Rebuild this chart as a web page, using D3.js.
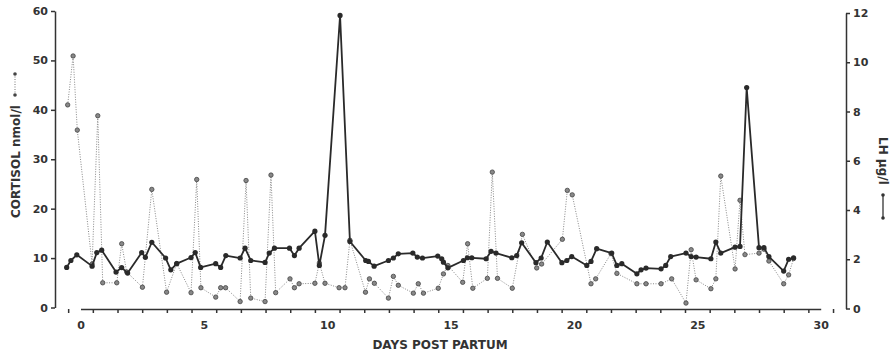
<!DOCTYPE html>
<html>
<head>
<meta charset="utf-8">
<script src="https://cdn.jsdelivr.net/npm/d3@7"></script>
<style>
  body { margin: 0; background: #fff; }
  text { font-family: "DejaVu Sans", sans-serif; font-weight: bold; fill: #333; }
</style>
</head>
<body>
<div id="chart"></div>
<script>
// LH (solid line, right axis, ug/l)
const lhDays = [-0.56, -0.39, -0.15, 0.47, 0.66, 0.86, 1.44, 1.67, 1.91, 2.48, 2.63, 2.89,
  3.45, 3.66, 3.90, 4.48, 4.65, 4.87, 5.48, 5.68, 5.89, 6.47, 6.67, 6.90, 7.48, 7.65, 7.86,
  8.47, 8.67, 8.86, 9.50, 9.68, 9.91, 10.52, 10.92, 11.56, 11.67, 11.90, 12.48, 12.68, 12.88,
  13.47, 13.65, 13.86, 14.48, 14.64, 14.71, 14.89, 15.52, 15.68, 15.86, 16.44, 16.64, 16.84,
  17.48, 17.68, 17.88, 18.46, 18.67, 18.92, 19.51, 19.71, 19.91, 20.52, 20.69, 20.92, 21.53,
  21.74, 21.94, 22.55, 22.72, 22.92, 23.53, 23.72, 23.92, 24.54, 24.75, 24.95, 25.55, 25.75,
  25.95, 26.53, 26.73, 27.0, 27.5, 27.7, 27.9, 28.5, 28.7, 28.9];
const lhValues = [1.67, 1.95, 2.18, 1.72, 2.27, 2.37, 1.48, 1.66, 1.44, 2.27, 2.08, 2.69,
  2.05, 1.57, 1.82, 2.07, 2.27, 1.67, 1.82, 1.67, 2.15, 2.05, 2.45, 1.95, 1.87, 2.25, 2.45,
  2.45, 2.15, 2.45, 3.14, 1.75, 2.97, 11.9, 2.72, 1.95, 1.91, 1.72, 1.95, 2.05, 2.22,
  2.25, 2.09, 2.05, 2.13, 2.02, 1.88, 1.65, 1.95, 2.06, 2.06, 2.02, 2.32, 2.25,
  2.06, 2.15, 2.67, 1.86, 2.05, 2.70, 1.86, 1.95, 2.11, 1.75, 1.91, 2.43, 2.25,
  1.75, 1.82, 1.41, 1.57, 1.64, 1.61, 1.75, 2.11, 2.25, 2.11, 2.09, 2.02, 2.70,
  2.25, 2.49, 2.52, 8.97, 2.47, 2.47, 2.11, 1.52, 2.0, 2.06];

// Cortisol (dotted line, left axis, nmol/l)
const cortDays = [-0.52, -0.30, -0.13, 0.47, 0.70, 0.90, 1.47, 1.67, 1.87, 2.51, 2.89, 3.49,
  3.90, 4.48, 4.71, 4.88, 5.48, 5.68, 5.88, 6.47, 6.71, 6.90, 7.48, 7.72, 7.91, 8.49, 8.67,
  8.86, 9.50, 9.68, 9.91, 10.48, 10.72, 10.92, 11.55, 11.71, 11.91, 12.48, 12.68, 12.88,
  13.49, 13.69, 13.90, 14.50, 14.71, 14.89, 15.49, 15.69, 15.90, 16.49, 16.69, 16.90, 17.50,
  17.91, 18.49, 18.69, 19.53, 19.73, 19.93, 20.69, 20.88, 21.50, 21.74, 22.55, 22.92, 23.53,
  23.96, 24.54, 24.75, 24.95, 25.55, 25.75, 25.95, 26.53, 26.73, 26.93, 27.5, 27.7, 27.9,
  28.5, 28.7, 28.9];
const cortValues = [41, 50.9, 35.9, 8.8, 38.8, 5.0, 5.0, 12.9, 7.2, 4.1, 23.9, 3.1,
  8.9, 3.0, 25.9, 4.0, 2.1, 4.0, 4.0, 1.2, 25.7, 1.9, 1.2, 26.8, 3.0, 5.8, 4.0,
  4.8, 4.9, 9.0, 4.9, 4.0, 4.0, 13.6, 3.1, 5.8, 4.9, 1.9, 6.3, 4.5,
  2.9, 4.8, 2.9, 3.9, 6.8, 8.5, 5.1, 12.9, 3.9, 5.9, 27.4, 5.9, 3.9,
  14.8, 8.0, 8.8, 13.8, 23.7, 22.8, 4.8, 5.8, 10.9, 6.9, 4.8, 4.8, 4.8,
  5.8, 0.9, 11.7, 5.6, 3.8, 5.8, 26.6, 7.8, 21.7, 10.7, 11.0, 11.8, 9.4,
  4.8, 6.6, 9.9];

// Axis ticks
const cortTicks = [0, 10, 20, 30, 40, 50, 60];
const lhTicks = [0, 2, 4, 6, 8, 10, 12];
const dayLabels = [0, 5, 10, 15, 20, 25, 30];
const dayTicks = d3.range(-0.5, 31, 1);

const width = 890;
const height = 355;

const svg = d3.select('#chart')
  .append('svg')
  .attr('width', width)
  .attr('height', height);

const x = d3.scaleLinear().domain([0, 30]).range([80.5, 820.7]);
const yCort = d3.scaleLinear().domain([0, 60]).range([307.5, 11]);
const yLh = d3.scaleLinear().domain([0, 12]).range([308.5, 13]);

const cortData = cortDays.map((d, i) => ({day: d, value: cortValues[i]}));
const lhData = lhDays.map((d, i) => ({day: d, value: lhValues[i]}));

// x axis: ticks at half days, labels on whole days
const xAxisY = 309;
svg.append('g')
  .attr('class', 'axis')
  .attr('transform', 'translate(0,' + xAxisY + ')')
  .call(d3.axisBottom(x).tickValues(dayTicks).tickSize(4).tickSizeOuter(0).tickFormat(''));
svg.append('g')
  .attr('class', 'axis labels')
  .attr('transform', 'translate(0,' + xAxisY + ')')
  .call(d3.axisBottom(x).tickValues(dayLabels).tickSize(0).tickPadding(12))
  .call(g => g.select('.domain').remove());

// left axis (cortisol)
svg.append('g')
  .attr('class', 'axis')
  .attr('transform', 'translate(55,0)')
  .call(d3.axisLeft(yCort).tickValues(cortTicks).tickSize(4).tickSizeOuter(0).tickPadding(3));

// right axis (LH)
svg.append('g')
  .attr('class', 'axis')
  .attr('transform', 'translate(846,0)')
  .call(d3.axisRight(yLh).tickValues(lhTicks).tickSize(4).tickSizeOuter(0).tickPadding(3));

svg.selectAll('.axis path, .axis line')
  .attr('stroke', '#333')
  .attr('stroke-width', 1.5);
svg.selectAll('.axis text')
  .style('font-size', '11px')
  .attr('fill', '#333');

// cortisol series
const cortLine = d3.line().x(d => x(d.day)).y(d => yCort(d.value));
svg.append('path')
  .datum(cortData)
  .attr('d', cortLine)
  .attr('fill', 'none')
  .attr('stroke', '#888')
  .attr('stroke-width', 1)
  .attr('stroke-dasharray', '1,1.5');

svg.selectAll('.cort-dot')
  .data(cortData)
  .enter()
  .append('circle')
  .attr('class', 'cort-dot')
  .attr('cx', d => x(d.day))
  .attr('cy', d => yCort(d.value))
  .attr('r', 2.2)
  .attr('fill', '#888')
  .attr('stroke', '#444')
  .attr('stroke-width', 0.8);

// LH series
const lhLine = d3.line().x(d => x(d.day)).y(d => yLh(d.value));
svg.append('path')
  .datum(lhData)
  .attr('d', lhLine)
  .attr('fill', 'none')
  .attr('stroke', '#2a2a2a')
  .attr('stroke-width', 1.8)
  .attr('stroke-linejoin', 'round');

svg.selectAll('.lh-dot')
  .data(lhData)
  .enter()
  .append('circle')
  .attr('class', 'lh-dot')
  .attr('cx', d => x(d.day))
  .attr('cy', d => yLh(d.value))
  .attr('r', 2.6)
  .attr('fill', '#2a2a2a');

// x title
svg.append('text')
  .attr('x', 440)
  .attr('y', 349)
  .attr('text-anchor', 'middle')
  .style('font-size', '12px')
  .text('DAYS POST PARTUM');

// left title with dotted legend symbol
const leftTitle = svg.append('g')
  .attr('transform', 'translate(19.5,218) rotate(-90)');
leftTitle.append('text')
  .attr('x', 0)
  .attr('y', 0)
  .style('font-size', '12px')
  .text('CORTISOL nmol/l');
leftTitle.append('line')
  .attr('x1', 123).attr('x2', 144)
  .attr('y1', -4.5).attr('y2', -4.5)
  .attr('stroke', '#777')
  .attr('stroke-dasharray', '1,1.5');
leftTitle.selectAll('.sym')
  .data([123, 144])
  .enter()
  .append('circle')
  .attr('cx', d => d)
  .attr('cy', -4.5)
  .attr('r', 1.8)
  .attr('fill', '#444');

// right title with solid legend symbol
const rightTitle = svg.append('g')
  .attr('transform', 'translate(878.5,137) rotate(90)');
rightTitle.append('text')
  .attr('x', 0)
  .attr('y', 0)
  .style('font-size', '12px')
  .text('LH µg/l');
rightTitle.append('line')
  .attr('x1', 58).attr('x2', 81)
  .attr('y1', -4.5).attr('y2', -4.5)
  .attr('stroke', '#333')
  .attr('stroke-width', 1.3);
rightTitle.selectAll('.sym')
  .data([58, 81])
  .enter()
  .append('circle')
  .attr('cx', d => d)
  .attr('cy', -4.5)
  .attr('r', 1.8)
  .attr('fill', '#333');
</script>
</body>
</html>
